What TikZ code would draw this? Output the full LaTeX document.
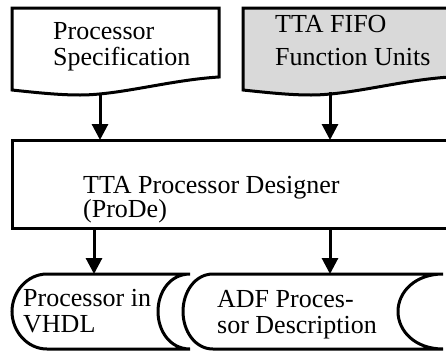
\documentclass[tikz,border=0pt]{standalone}
\usepackage{fontspec}
\setmainfont{Liberation Serif}
\usetikzlibrary{arrows.meta}
\definecolor{docgray}{RGB}{217,217,217}
\tikzset{
  shapeline/.style={line width=3pt, line join=miter},
  arr/.style={line width=3pt, -{Triangle[width=16pt,length=16pt]}},
  lbl/.style={anchor=base west, align=left, inner sep=0pt, font=\fontsize{26}{26}\selectfont}
}
\begin{document}
\begin{tikzpicture}[x=1pt,y=-1pt]
\clip (0,0) rectangle (446,351);
\fill[white] (0,0) rectangle (446,351);
% document 1
\draw[shapeline] (12,90) -- (12,8) -- (219,8) -- (219,77)
  .. controls (170,80) and (120,95) .. (80,95)
  .. controls (60,95) and (40,93) .. (12,90) -- cycle;
% document 2 (gray)
\draw[shapeline, fill=docgray] (243,90) -- (243,8) -- (450,8) -- (450,77)
  .. controls (401,80) and (351,95) .. (311,95)
  .. controls (291,95) and (271,93) .. (243,90) -- cycle;
% process box
\draw[shapeline] (12,140) rectangle (460,228);
% stored data 1
\draw[shapeline] (47,274) -- (190,274)
  .. controls (170,274) and (158,292) .. (158,311.5)
  .. controls (158,331) and (170,349) .. (190,349)
  -- (47,349)
  .. controls (27,349) and (12,331) .. (12,311.5)
  .. controls (12,292) and (27,274) .. (47,274) -- cycle;
% stored data 2
\draw[shapeline] (213,274) -- (443,274)
  .. controls (415,274) and (398,292) .. (398,311.5)
  .. controls (398,331) and (415,349) .. (443,349)
  -- (213,349)
  .. controls (195,349) and (183,331) .. (183,311.5)
  .. controls (183,292) and (195,274) .. (213,274) -- cycle;
% texts (anchored at the baseline of the last line)
\node[lbl] (ps) at (53,65) {Processor\\Specification};
\node[lbl] (ff) at (275,65) {TTA FIFO\\[7pt]Function Units};
\node[lbl] (pd) at (83,217) {TTA Processor Designer\\[-2pt](ProDe)};
\node[lbl] (vh) at (23,332) {Processor in\\VHDL};
\node[lbl] (adf) at (217,333) {ADF Proces-\\sor Description};
% connector end points
\coordinate (ps-out) at (100,93);
\coordinate (pd-in1) at (100,140);
\coordinate (ff-out) at (330,92);
\coordinate (pd-in2) at (330,140);
\coordinate (pd-out1) at (94,228);
\coordinate (vh-in) at (94,274);
\coordinate (pd-out2) at (330,228);
\coordinate (adf-in) at (330,274);
\draw[arr] (ps-out) -- (pd-in1);
\draw[arr] (ff-out) -- (pd-in2);
\draw[arr] (pd-out1) -- (vh-in);
\draw[arr] (pd-out2) -- (adf-in);
\end{tikzpicture}
\end{document}
